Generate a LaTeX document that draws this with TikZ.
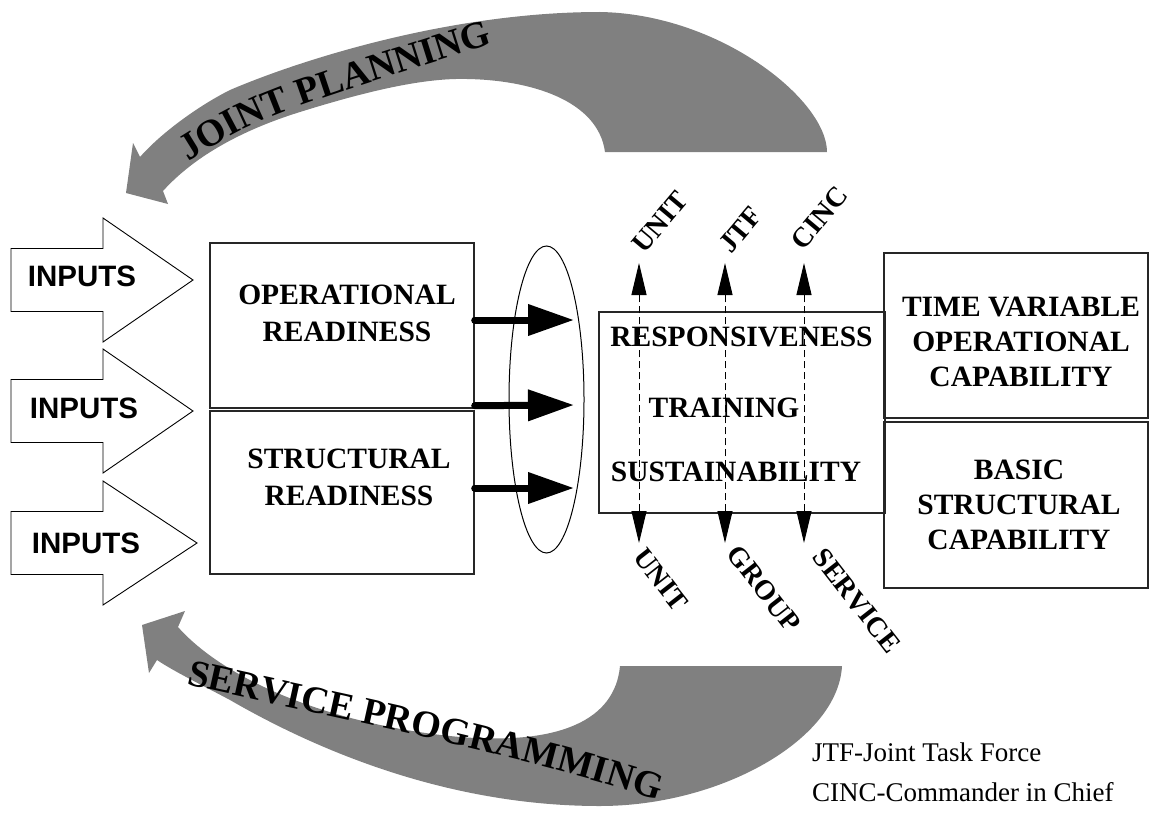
\documentclass[tikz,border=0pt]{standalone}
\usepackage{fontspec}
\setmainfont{Liberation Serif}
\setsansfont{Liberation Sans}
\usetikzlibrary{arrows.meta}
\usetikzlibrary{shapes.geometric}
\usetikzlibrary{decorations.text}
\tikzset{
	box/.style={rectangle, inner sep=0pt, draw=black!85, line width=1.4pt},
	boxtxt/.style={font=\fontsize{29.5}{36.5}\selectfont\bfseries, align=center, inner sep=0pt},
	inarrow/.style={draw=black, line width=0.9pt, fill=white},
	intxt/.style={font=\sffamily\fontsize{29.5}{30}\selectfont\bfseries, inner sep=0pt},
	fatarrow/.style={line width=7pt, line cap=round, -{Triangle[length=46pt,width=30pt]}},
	dashline/.style={line width=1pt, dash pattern=on 7pt off 4pt, {Triangle[length=32pt,width=15pt]}-{Triangle[length=32pt,width=15pt]}},
	level/.style={font=\fontsize{28}{28}\selectfont\bfseries, inner sep=0pt},
	legend/.style={font=\fontsize{27}{27}\selectfont, inner sep=0pt},
	bigarc/.style={fill=black!50, draw=none},
}
\newcommand{\bannerfont}{\fontsize{38}{38}\selectfont\bfseries}

\begin{document}
\begin{tikzpicture}[x=1pt,y=-1pt]
\useasboundingbox (0,0) rectangle (1153,816);

% joint planning
\fill[bigarc] (827,152) .. controls (827,100) and (720,14) .. (600,12)
	.. controls (450,12) and (300,60) .. (230,90)
	.. controls (200,105) and (162,132) .. (140,157)
	-- (133,143) -- (126,193) -- (168,204) -- (163,191)
	.. controls (200,150) and (255,126) .. (300,112)
	.. controls (380,87) and (430,78) .. (467,79)
	.. controls (530,80) and (598,100) .. (605,152) -- cycle;
\path[decorate, decoration={text along path, text={|\bannerfont|JOINT PLANNING}}]
	(188,162) .. controls (262,116) .. (520,35);

% service programming
\fill[bigarc] (842,666) .. controls (838,740) and (720,806) .. (600,806)
	.. controls (450,806) and (320,752) .. (230,700)
	.. controls (200,684) and (175,672) .. (157,660)
	-- (149,673) -- (142,625) -- (185,611) -- (178,627)
	.. controls (225,680) and (330,725) .. (460,737)
	.. controls (560,745) and (615,720) .. (620,666) -- cycle;
\path[decorate, decoration={text along path, text={|\bannerfont|SERVICE PROGRAMMING}}]
	(186,684) .. controls (330,718) and (560,760) .. (712,820);

% inputs
\draw[inarrow] (11,248.5) -- (103,248.5) -- (103,218) -- (193,280) -- (103,342) -- (103,311.5) -- (11,311.5) -- cycle;
\draw[inarrow] (11,379.5) -- (103,379.5) -- (103,349) -- (193,411) -- (103,473) -- (103,442.5) -- (11,442.5) -- cycle;
\draw[inarrow] (11,511.5) -- (103,511.5) -- (103,481) -- (197,543) -- (103,605) -- (103,574.5) -- (11,574.5) -- cycle;
\node[intxt] (in1) at (82,276) {INPUTS};
\node[intxt] (in2) at (84,408) {INPUTS};
\node[intxt] (in3) at (86,543) {INPUTS};

% readiness boxes
\node[box, minimum width=264pt, minimum height=165pt] (opbox) at (342,325.5) {};
\node[box, minimum width=264pt, minimum height=163pt] (stbox) at (342,492.5) {};
\node[boxtxt] (optxt) at (347,313.5) {OPERATIONAL\\READINESS};
\node[boxtxt] (sttxt) at (349,477.5) {STRUCTURAL\\READINESS};

\node[draw, ellipse, line width=1pt, inner sep=0pt, minimum width=75pt, minimum height=307pt] (ring) at (546.5,399.5) {};

\coordinate (r1) at (574,320);
\coordinate (r2) at (574,405);
\coordinate (r3) at (574,488);
\draw[fatarrow] ([yshift=5.5pt]opbox.east) -- (r1);
\draw[fatarrow] ([yshift=3pt]opbox.south east) -- (r2);
\draw[fatarrow] ([yshift=4.5pt]stbox.east) -- (r3);

% middle box
\node[box, minimum width=286pt, minimum height=201pt] (midbox) at (742,412.5) {};
\node[boxtxt] (resp) at (741.5,337) {RESPONSIVENESS};
\node[boxtxt] (train) at (724,407.5) {TRAINING};
\node[boxtxt] (sust) at (736,472) {SUSTAINABILITY};

\coordinate (t1) at (639,263);
\coordinate (t2) at (725,263);
\coordinate (t3) at (804,263);
\coordinate (b1) at (639,543);
\coordinate (b2) at (725,543);
\coordinate (b3) at (804,543);
\draw[dashline] (b1) -- (t1);
\draw[dashline] (b2) -- (t2);
\draw[dashline] (b3) -- (t3);

\node[level, rotate=50] (upunit) at (660,222) {UNIT};
\node[level, rotate=50] (upjtf) at (741,230) {JTF};
\node[level, rotate=50] (upcinc) at (819,218) {CINC};
\node[level, rotate=-52] (lounit) at (661,580) {UNIT};
\node[level, rotate=-52] (logroup) at (764,589) {GROUP};
\node[level, rotate=-52] (loserv) at (857,601) {SERVICE};

% capability boxes
\node[box, minimum width=264pt, minimum height=165pt] (tvbox) at (1016,335.5) {};
\node[box, minimum width=264pt, minimum height=166pt] (bsbox) at (1016,505) {};
\node[boxtxt, font=\fontsize{29.5}{35}\selectfont\bfseries] (tvtxt) at (1021,342) {TIME VARIABLE\\OPERATIONAL\\CAPABILITY};
\node[boxtxt, font=\fontsize{29.5}{35}\selectfont\bfseries] (bstxt) at (1019,505) {BASIC\\STRUCTURAL\\CAPABILITY};

% legend
\node[legend, anchor=base west] (lg1) at (812,761) {JTF-Joint Task Force};
\node[legend, anchor=base west] (lg2) at (812,801) {CINC-Commander in Chief};
\end{tikzpicture}
\end{document}
